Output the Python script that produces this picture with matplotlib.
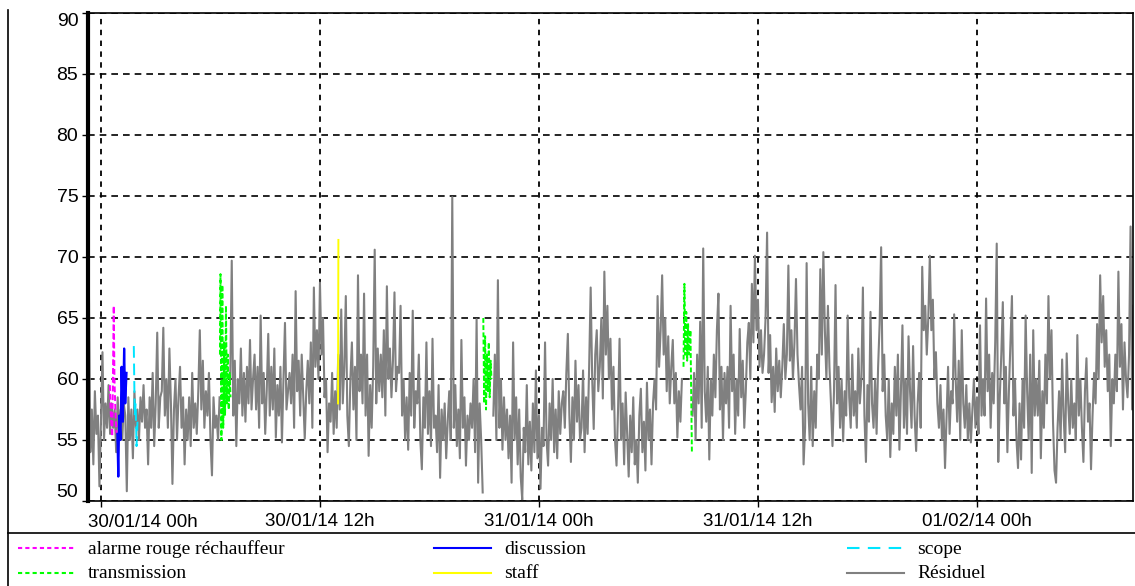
import matplotlib
matplotlib.use('Agg')
import matplotlib.pyplot as plt
from matplotlib.lines import Line2D
import pandas as pd

nan = float('nan')

# Résiduel, un point toutes les 5 minutes depuis le 29/01/14 23h20 (une ligne = une heure)
residuel = [
    68.4, 54.0, 57.5, 53.0, 59.0, 55.5, 57.0, 51.2, 56.5, 62.2, 55.0, 58.0,
    56.0, 59.5, 55.5, 58.0, 56.0, 57.5, 54.0, 58.5, 55.5, 57.5, 55.0, 58.0,
    57.0, 50.8, 58.5, 55.0, 57.5, 53.5, 59.0, 56.0, 57.5, 55.0, 58.5, 56.5,
    59.5, 56.0, 57.5, 53.0, 58.5, 56.0, 60.5, 54.5, 58.0, 63.8, 56.0, 58.5,
    59.0, 64.2, 57.0, 60.0, 56.0, 62.5, 58.0, 51.4, 57.5, 60.0, 55.0, 58.5,
    61.0, 56.0, 58.5, 53.0, 57.5, 55.0, 58.5, 54.5, 60.5, 56.0, 58.0, 55.5,
    59.0, 64.0, 57.5, 61.5, 56.0, 59.0, 57.0, 60.5, 55.0, 52.1, 58.5, 56.0,
    57.0, 55.0, 58.5, nan, nan, nan, nan, nan, nan, 60.0, 69.7, 57.0,
    61.5, 54.5, 60.0, 58.0, 62.5, 57.0, 60.5, 56.5, 61.0, 58.0, 63.2, 57.5,
    60.0, 62.0, 57.5, 61.0, 56.0, 65.2, 58.0, 60.5, 55.5, 59.0, 63.7, 57.0,
    61.0, 57.5, 62.5, 55.2, 59.5, 57.0, 61.0, 54.8, 60.0, 64.6, 57.5, 59.0,
    60.5, 58.0, 62.0, 56.0, 67.2, 59.0, 61.5, 57.0, 62.0, 58.5, 55.1, 59.0,
    61.5, 58.0, 63.0, 56.0, 67.5, 61.0, 64.0, 60.0, 67.9, 62.0, 65.0, 58.5,
    60.0, 54.0, 58.0, 56.5, 60.5, 55.5, 59.0, 56.0, 62.0, 57.5, 65.7, 58.0,
    61.0, 66.8, 57.0, 54.5, 60.0, 63.0, 57.5, 61.0, 55.0, 68.5, 59.0, 62.0,
    58.0, 67.0, 57.0, 62.0, 53.7, 59.5, 56.0, 61.0, 70.6, 58.0, 62.5, 59.0,
    62.0, 58.5, 64.0, 57.0, 67.6, 60.0, 62.5, 58.5, 61.5, 67.1, 59.0, 61.0,
    60.5, 66.0, 57.0, 60.0, 55.0, 58.5, 54.2, 60.5, 57.0, 65.6, 56.0, 59.0,
    58.0, 62.0, 55.0, 52.6, 58.5, 56.0, 63.0, 55.5, 59.0, 54.5, 63.3, 56.0,
    57.0, 54.0, 59.5, 51.9, 57.5, 55.0, 58.0, 53.5, 56.5, 59.0, 55.0, 74.9,
    56.0, 59.5, 54.5, 57.5, 53.5, 63.2, 56.0, 58.5, 52.9, 57.0, 55.0, 58.0,
    56.0, 60.0, 54.0, 64.9, 51.5, 58.0, 55.0, 50.7, nan, nan, nan, nan,
    nan, nan, 57.0, 62.0, 55.0, 68.1, 56.0, 60.0, 54.2, 58.5, 55.0, 57.5,
    53.5, 57.0, 51.5, 63.0, 55.0, 58.5, 53.0, 57.5, 52.0, 50.1, 56.0, 54.0,
    59.5, 53.0, 56.5, 52.5, 58.0, 54.0, 60.7, 53.5, 57.0, 51.0, 56.0, 54.5,
    63.0, 55.0, 52.9, 58.0, 55.0, 60.0, 54.0, 57.5, 53.5, 59.0, 55.5, 58.0,
    59.0, 56.0, 60.5, 63.7, 57.0, 53.2, 58.5, 55.0, 61.5, 56.5, 59.5, 55.0,
    56.0, 60.7, 54.0, 58.5, 55.5, 61.0, 67.5, 60.0, 55.9, 62.0, 64.0, 59.0,
    61.0, 65.0, 58.4, 68.8, 62.0, 66.0, 60.0, 63.3, 57.5, 61.0, 55.0, 52.9,
    57.5, 63.3, 55.0, 58.0, 53.0, 58.9, 55.5, 52.0, 57.0, 54.0, 58.5, 53.0,
    55.0, 51.5, 57.0, 59.2, 54.0, 56.5, 52.5, 59.7, 55.0, 57.5, 53.0, 58.0,
    60.0, 57.5, 66.8, 61.0, 64.0, 68.5, 62.0, 65.0, 59.0, 63.5, 58.0, 61.0,
    63.2, 58.0, 60.5, 55.2, 59.0, 56.5, 60.0, nan, nan, nan, nan, nan,
    nan, 57.0, 60.5, 55.0, 62.0, 58.0, 64.7, 56.0, 70.7, 59.0, 56.5, 61.0,
    53.4, 60.0, 57.0, 62.0, 58.5, 64.0, 67.0, 57.5, 61.0, 55.0, 60.5, 58.0,
    61.0, 56.0, 66.0, 59.0, 62.0, 55.5, 60.0, 57.0, 64.1, 58.5, 61.5, 56.0,
    59.0, 63.0, 64.6, 60.0, 67.8, 63.0, 70.1, 64.0, 66.5, 61.0, 64.0, 60.5,
    62.0, 65.0, 72.0, 60.5, 63.6, 58.1, 61.0, 57.3, 62.5, 59.0, 61.5, 58.5,
    61.0, 64.5, 60.0, 62.0, 69.3, 61.5, 64.0, 60.0, 63.0, 68.2, 62.0, 59.5,
    57.5, 61.0, 53.0, 56.0, 69.5, 58.0, 55.0, 61.0, 54.5, 59.0, 56.0, 62.0,
    60.0, 69.0, 62.0, 70.4, 64.0, 60.0, 66.0, 61.0, 58.0, 54.5, 59.0, 67.7,
    58.0, 61.0, 56.0, 60.0, 54.9, 59.0, 57.0, 65.2, 58.5, 56.0, 62.0, 57.0,
    59.0, 56.0, 62.5, 58.0, 60.0, 67.5, 57.0, 53.2, 59.5, 56.5, 65.5, 58.0,
    56.0, 60.0, 55.5, 61.0, 64.5, 70.8, 59.0, 62.0, 57.0, 55.0, 60.0, 53.6,
    58.0, 55.5, 61.0, 57.0, 62.0, 54.2, 59.0, 64.4, 56.0, 60.0, 55.5, 63.5,
    59.0, 56.0, 62.7, 57.0, 54.1, 58.0, 60.5, 56.0, 69.2, 64.0, 66.0, 62.0,
    65.0, 70.1, 64.0, 66.5, 60.0, 62.2, 58.0, 56.0, 59.5, 55.0, 57.5, 52.7,
    57.0, 61.0, 55.5, 59.0, 58.0, 65.3, 60.0, 56.5, 61.5, 55.0, 64.0, 58.0,
    56.0, 59.5, 55.0, 58.0, 54.8, 57.5, 60.0, 56.0, 58.5, 55.5, 64.4, 57.0,
    60.0, 57.0, 66.6, 59.0, 62.0, 56.0, 60.5, 58.0, 63.0, 71.1, 53.2, 58.5,
    62.0, 66.3, 58.0, 61.0, 54.0, 59.0, 63.0, 66.8, 57.0, 60.0, 55.0, 52.7,
    58.0, 53.4, 60.0, 56.0, 65.2, 59.0, 55.0, 62.0, 52.3, 64.0, 57.0, 60.0,
    57.0, 61.5, 53.5, 59.0, 56.0, 62.0, 58.0, 66.8, 60.0, 64.0, 56.5, 52.5,
    51.5, 56.0, 59.0, 55.0, 61.6, 57.0, 54.0, 62.1, 58.0, 55.5, 60.0, 56.0,
    58.0, 55.0, 63.6, 57.0, 60.0, 56.0, 53.2, 59.0, 61.7, 56.5, 58.0, 52.6,
    57.0, 60.5, 58.0, 64.5, 60.0, 68.5, 63.0, 66.8, 61.0, 64.0, 59.0, 62.0,
    54.5, 60.0, 58.0, 62.0, 59.0, 68.8, 61.0, 64.5, 57.5, 63.0, 60.0, 58.5,
    62.0, 72.5, 57.5, 66.0,
]

# événements (heures depuis le 30/01/14 00h)
alarme_h = [0.49, 0.53, 0.58, 0.62, 0.70, 0.74, 0.80, 0.86]
alarme_v = [59.5, 57.5, 56.0, 55.3, 66.0, 60.0, 57.0, 55.5]

discussion_h = [0.90, 0.95, 1.00, 1.07, 1.13, 1.20, 1.27, 1.33, 1.40]
discussion_v = [55.5, 52.0, 57.0, 55.0, 61.0, 56.5, 62.5, 58.0, 60.5]

scope_h = [1.80, 1.85, 1.90, 1.95, 2.00]
scope_v = [62.7, 57.0, 58.0, 54.5, 56.5]

transmission_h = [6.52, 6.55, 6.60, 6.65, 6.70, 6.75, 6.80, 6.85, 6.90, 6.95, 7.00, 7.05, 7.10,
                  20.95, 21.00, 21.05, 21.10, 21.15, 21.20, 21.25, 21.30, 21.35, 21.40,
                  31.92, 31.97, 32.02, 32.07, 32.12, 32.17, 32.22, 32.30, 32.38]
transmission_v = [62.0, 68.6, 55.0, 67.7, 56.0, 63.0, 57.0, 66.0, 58.0, 62.0, 57.5, 60.5, 58.5,
                  65.0, 58.0, 63.5, 57.5, 62.0, 59.0, 63.0, 58.5, 61.5, 60.0,
                  61.0, 67.8, 62.0, 65.5, 61.5, 64.5, 62.0, 64.0, 54.0]
transmission_grp = [0] * 13 + [1] * 10 + [2] * 9

staff_h = [12.99, 13.01]
staff_v = [58.0, 71.4]

tick_labels = ['30/01/14 00h', '30/01/14 12h', '31/01/14 00h', '31/01/14 12h', '01/02/14 00h']
y_ticks = [50, 55, 60, 65, 70, 75, 80, 85, 90]

base = pd.Timestamp('2014-01-30 00:00')
def heures(h):
    return base + pd.to_timedelta(h, unit='h')

W, H = 1135, 586
fig = plt.figure(figsize=(W / 100, H / 100), dpi=100)
ax = fig.add_axes([88 / W, 1 - 501 / H, (1133 - 88) / W, (501 - 13) / H])

t_res = pd.date_range('2014-01-29 23:20', periods=len(residuel), freq='5min')
ax.plot(t_res, residuel, color='#808080', lw=1.5, zorder=2)

ax.plot(heures(alarme_h), alarme_v, color='#ff00ff', lw=1.4, ls=(0, (3, 1.5)), zorder=3)
ax.plot(heures(discussion_h), discussion_v, color='#0000ff', lw=1.6, zorder=3)
ax.plot(heures(scope_h), scope_v, color='#00e5ff', lw=1.4, ls=(0, (6, 3)), zorder=3)
for g in range(3):
    hh = [h for h, k in zip(transmission_h, transmission_grp) if k == g]
    vv = [v for v, k in zip(transmission_v, transmission_grp) if k == g]
    ax.plot(heures(hh), vv, color='#00ff00', lw=1.4, ls=(0, (2.5, 1.2)), zorder=3)
ax.plot(heures(staff_h), staff_v, color='#ffff00', lw=1.4, zorder=3)

ax.set_xlim(heures(-0.71), heures(56.55))
ax.set_ylim(50, 90)

tick_pos = [heures(12 * i) for i in range(len(tick_labels))]
ax.set_xticks(tick_pos)
ax.set_xticklabels(['', *tick_labels[1:]], fontsize=13.5, family='Liberation Sans')
ax.text(0.0, -0.027, tick_labels[0], transform=ax.transAxes, ha='left', va='top',
        fontsize=13.5, family='Liberation Sans')
ax.set_yticks(y_ticks)
ax.set_yticklabels([str(v) for v in y_ticks], fontsize=14, family='Liberation Sans')
ylab = ax.get_yticklabels()
ylab[0].set_verticalalignment('bottom')
ylab[-1].set_verticalalignment('top')
ax.tick_params(axis='y', length=4, width=1, colors='black', pad=3)
ax.tick_params(axis='x', length=4, width=1, colors='black', pad=5)

ax.grid(axis='y', color='black', ls=(0, (4, 3)), lw=1.2)
ax.grid(axis='x', color='black', ls=(0, (3, 3)), lw=1.3)
for s in ['top', 'right', 'bottom']:
    ax.spines[s].set_linewidth(1.2)
ax.spines['left'].set_linewidth(3)

# cadre et légende
def px(x, y):
    return x / W, 1 - y / H

fig.add_artist(Line2D([8 / W, 8 / W], [1 - 10 / H, 0], color='black', lw=1.2))
fig.add_artist(Line2D([8 / W, 1], [1 - 533 / H, 1 - 533 / H], color='black', lw=1.2))

legende = [
    ('alarme rouge réchauffeur', '#ff00ff', (0, (2, 1.5)), 18, 548),
    ('discussion', '#0000ff', '-', 434, 548),
    ('scope', '#00e5ff', (0, (6, 4)), 847, 548),
    ('transmission', '#00ff00', (0, (2, 1.5)), 18, 573),
    ('staff', '#ffff00', '-', 434, 573),
    ('Résiduel', '#808080', '-', 847, 573),
]
for nom, c, style, x0, y0 in legende:
    (xa, ya), (xb, _) = px(x0, y0), px(x0 + 57, y0)
    fig.add_artist(Line2D([xa, xb], [ya, ya], color=c, lw=1.5, ls=style))
    tx, ty = px(x0 + 70, y0 + 1)
    fig.text(tx, ty, nom, ha='left', va='center', fontsize=14, family='Liberation Serif')

fig.savefig('out.png', dpi=100)
